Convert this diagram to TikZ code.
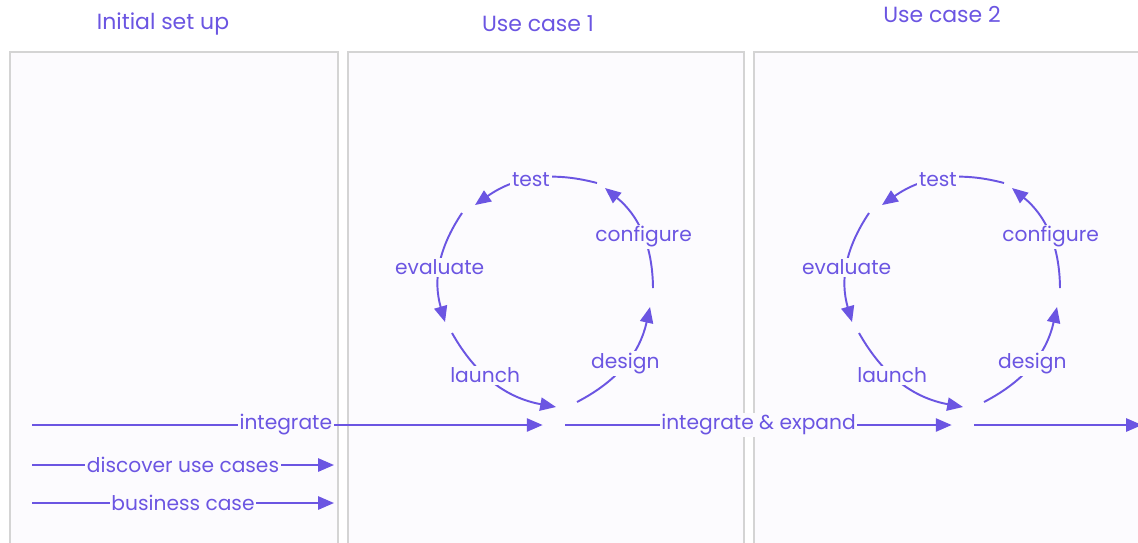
\documentclass[tikz,border=0pt]{standalone}
\usepackage{fontspec}
\setmainfont{Poppins}
\usetikzlibrary{arrows.meta, calc, positioning}
\definecolor{ink}{HTML}{6B55E2}
\definecolor{paper}{HTML}{FCFBFE}
\definecolor{rim}{HTML}{D4D4D4}
\tikzset{
x=0.02cm, y=-0.02cm, % one unit is one pixel of the sketch
>={Triangle[length=9pt, width=7.5pt]}, % filled arrow heads
flow/.style={->, draw=ink, line width=1.1pt}, % every arrow
lbl/.style={text=ink, fill=paper, inner sep=1pt, font=\fontsize{11.5}{13}\selectfont}, % text on an arrow
title/.style={text=ink, font=\fontsize{12.5}{14}\selectfont}, % column heads
panel/.style={draw=rim, fill=paper, line width=1pt}, % the three columns
hub/.style={circle, inner sep=0pt, minimum size=0.44cm}, % where a loop meets the main line
}

\begin{document}
\begin{tikzpicture}
        \useasboundingbox (0,0) rectangle (1138,542);
        \fill[white] (0,0) rectangle (1138,542);

        \draw[panel] (10,52) rectangle (338,560);
        \draw[panel] (348,52) rectangle (744,560);
        \draw[panel] (754,52) rectangle (1160,560);

        \node[title] (setup) at (163,24) {Initial set up};
        \node[title] (case1) at (538,24) {Use case 1};
        \node[title] (case2) at (942,15) {Use case 2};

        % one loop per use case
        \coordinate (c1) at (549,295);
        \coordinate (c2) at (956,295);
        \foreach \i in {1,2} {
          \foreach \sx/\sy/\ex/\ey/\t/\p in {28/107/101/12/design/0.5, 104/-7/56/-107/configure/0.45,
              48/-112/-74/-90/test/0.52, -87/-82/-104/27/evaluate/0.52, -97/38/7/112/launch/0.4}
            \draw[flow] ($(c\i)+(\sx,\sy)$) to[bend right=25] node[lbl, pos=\p] {\t} ($(c\i)+(\ex,\ey)$);
        }

        \node[hub] (hub1) at (554,425) {};
        \node[hub] (hub2) at (963,425) {};

        \coordinate (in0) at (32,425);
        \coordinate (out) at (1142,425);
        \coordinate (d0) at (32,465);
        \coordinate (d1) at (334,465);
        \coordinate (b0) at (32,503);
        \coordinate (b1) at (334,503);

        \draw[flow] (in0) -- node[lbl, pos=0.497] {integrate} (hub1.west);
        \draw[flow] (hub1.east) -- node[lbl] {integrate \& expand} (hub2.west);
        \draw[flow] (hub2.east) -- (out);
        \draw[flow] (d0) -- node[lbl] {discover use cases} (d1);
        \draw[flow] (b0) -- node[lbl] {business case} (b1);
      \end{tikzpicture}
\end{document}
